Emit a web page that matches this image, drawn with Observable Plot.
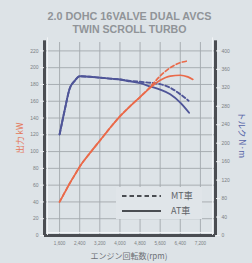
<!DOCTYPE html>
<html><head><meta charset="utf-8">
<script src="https://cdn.jsdelivr.net/npm/d3@7"></script>
<script src="https://cdn.jsdelivr.net/npm/@observablehq/plot@0.6"></script>
<style>
html,body{margin:0;padding:0;background:#dde3e7;}
#c{width:252px;height:263px;overflow:hidden;position:relative}
</style></head><body><div id="c"></div>
<script>
const titleLines = ["2.0 DOHC 16VALVE DUAL AVCS", "TWIN SCROLL TURBO"];
const xTitle = "エンジン回転数(rpm)";
const leftTitle = "出力 kW";
const rightTitle = "トルク N·m";
const legendLabels = ["MT車", "AT車"];

const xTicks = [1600, 2400, 3200, 4000, 4800, 5600, 6400, 7200];
const powerTicks = [0, 20, 40, 60, 80, 100, 120, 140, 160, 180, 200, 220];
const torqueTicks = [0, 40, 80, 120, 160, 200, 240, 280, 320, 360, 400];

// Output (kW)
const rpmPowerAT = [1600, 1800, 2000, 2200, 2400, 2800, 3200, 3600, 4000, 4400, 4800, 5200, 5600, 6000, 6400, 6700, 6900];
const powerAT    = [40,   51,   62,   72,   82,   98,   113,  128,  142,  154,  165,  176,  185,  190,  191,  189,  186];
const rpmPowerMT = [1600, 1800, 2000, 2200, 2400, 2800, 3200, 3600, 4000, 4400, 4800, 5200, 5600, 6000, 6400, 6700];
const powerMT    = [40,   51,   62,   72,   82,   98,   113,  128,  142,  154,  165,  177,  190,  200,  206,  208];

// Torque (N·m)
const rpmTorqueAT = [1600, 1800, 2000, 2200, 2400, 2800, 3200, 3600, 4000, 4400, 4800, 5200, 5600, 6000, 6400, 6750];
const torqueAT    = [219,  271,  318,  335,  345,  344,  342,  340,  338,  334,  330,  323,  316,  306,  288,  266];
const rpmTorqueMT = [1600, 1800, 2000, 2200, 2400, 2800, 3200, 3600, 4000, 4400, 4800, 5200, 5600, 6000, 6400, 6730];
const torqueMT    = [219,  271,  318,  335,  345,  344,  342,  340,  338,  335,  333,  331,  328,  320,  306,  292];

const K = 220 / 400; // torque -> left-axis units
const RED = "#ea6a4a", BLUE = "#4f5598";
const rows = (r, v, k) => r.map((d, i) => ({rpm: d, v: v[i] * k}));

const chart = Plot.plot({
  width: 252, height: 263,
  marginLeft: 44, marginRight: 37, marginTop: 42, marginBottom: 28,
  style: {background: "transparent", fontFamily: "'Liberation Sans', Arial, sans-serif"},
  x: {domain: [1000, 7800]},
  y: {domain: [0, 230]},
  marks: [
    Plot.gridX(xTicks, {stroke: "#a3a8ad", strokeOpacity: 1, strokeWidth: 0.9}),
    Plot.gridY(powerTicks.filter(d => d > 0), {stroke: "#a3a8ad", strokeOpacity: 1, strokeWidth: 0.9}),
    Plot.line(rows(rpmTorqueAT, torqueAT, K), {x: "rpm", y: "v", stroke: BLUE, strokeWidth: 1.9, curve: "monotone-x"}),
    Plot.line(rows(rpmTorqueMT, torqueMT, K), {x: "rpm", y: "v", stroke: BLUE, strokeWidth: 1.9, strokeDasharray: "4,2.5", curve: "monotone-x"}),
    Plot.line(rows(rpmPowerAT, powerAT, 1), {x: "rpm", y: "v", stroke: RED, strokeWidth: 1.7, curve: "monotone-x"}),
    Plot.line(rows(rpmPowerMT, powerMT, 1), {x: "rpm", y: "v", stroke: RED, strokeWidth: 1.7, strokeDasharray: "4,2.5", curve: "monotone-x"}),
    Plot.ruleX([1000], {stroke: "#4a4d52", strokeWidth: 3, y1: 0, y2: 232}),
    Plot.ruleX([7800], {stroke: "#4a4d52", strokeWidth: 3, y1: 0, y2: 232}),
    Plot.ruleY([0], {stroke: "#4a4d52", strokeWidth: 3}),
    Plot.ruleX([1000], {stroke: "#f4f6f7", strokeWidth: 0.9, dx: 3, y1: 0, y2: 232, insetBottom: 3}),
    Plot.ruleX([7800], {stroke: "#f4f6f7", strokeWidth: 0.9, dx: -3, y1: 0, y2: 232, insetBottom: 3}),
    Plot.ruleY([0], {stroke: "#f4f6f7", strokeWidth: 0.9, dy: -3, insetLeft: 3, insetRight: 3}),
    Plot.axisY(powerTicks, {anchor: "left", tickSize: 4, tickPadding: 2, stroke: "#eef0f2", fontSize: 5, fill: "#7b7f84", label: null}),
    Plot.axisY(torqueTicks.map(t => t * K), {anchor: "right", tickSize: 4, tickPadding: 2, stroke: "#eef0f2", fontSize: 5, fill: "#7b7f84", tickFormat: d => Math.round(d / K), label: null}),
    Plot.axisX(xTicks, {anchor: "bottom", tickSize: 0, tickPadding: 6, fontSize: 4.6, fill: "#7b7f84", label: null})
  ]
});

const svg = d3.select(chart);
svg.style("position", "absolute").style("left", 0).style("top", 0);

// Title
titleLines.forEach((t, i) => {
  svg.append("text").attr("x", 129.5).attr("y", i === 0 ? 19.5 : 32.5)
    .attr("text-anchor", "middle").attr("font-size", 10.5).attr("font-weight", "bold")
    .attr("font-family", "'Liberation Sans', Arial, sans-serif")
    .attr("fill", "#909498")
    .attr("textLength", i === 0 ? 164 : 114).attr("lengthAdjust", "spacingAndGlyphs")
    .text(t);
});

// Axis titles
svg.append("text").attr("transform", "translate(23,138) rotate(-90)")
  .attr("text-anchor", "middle").attr("font-size", 8.5).attr("fill", "#e4775a")
  .attr("font-family", "'Noto Sans CJK JP', sans-serif").text(leftTitle);
svg.append("text").attr("transform", "translate(239,135) rotate(90)")
  .attr("text-anchor", "middle").attr("font-size", 8.5).attr("fill", "#5865a8")
  .attr("font-family", "'Noto Sans CJK JP', sans-serif").text(rightTitle);
svg.append("text").attr("x", 129).attr("y", 259)
  .attr("text-anchor", "middle").attr("font-size", 8).attr("fill", "#6d7176")
  .attr("font-family", "'Noto Sans CJK JP', sans-serif").text(xTitle);

// Legend
const lg = svg.append("g");
lg.append("rect").attr("x", 116).attr("y", 187).attr("width", 86).attr("height", 32).attr("fill", "#e0e5e9");
[0, 1].forEach(i => {
  const yy = i === 0 ? 196 : 211;
  lg.append("line").attr("x1", 122).attr("x2", 161).attr("y1", yy).attr("y2", yy)
    .attr("stroke", "#4a4d52").attr("stroke-width", 1.8)
    .attr("stroke-dasharray", i === 0 ? "4.5,3" : null);
  lg.append("text").attr("x", 171).attr("y", yy + 3.3).attr("font-size", 9)
    .attr("text-anchor", "start")
    .attr("fill", "#5e6267").attr("font-family", "'Noto Sans CJK JP', sans-serif")
    .text(legendLabels[i]);
});

document.getElementById("c").appendChild(chart);
</script>
</body></html>
